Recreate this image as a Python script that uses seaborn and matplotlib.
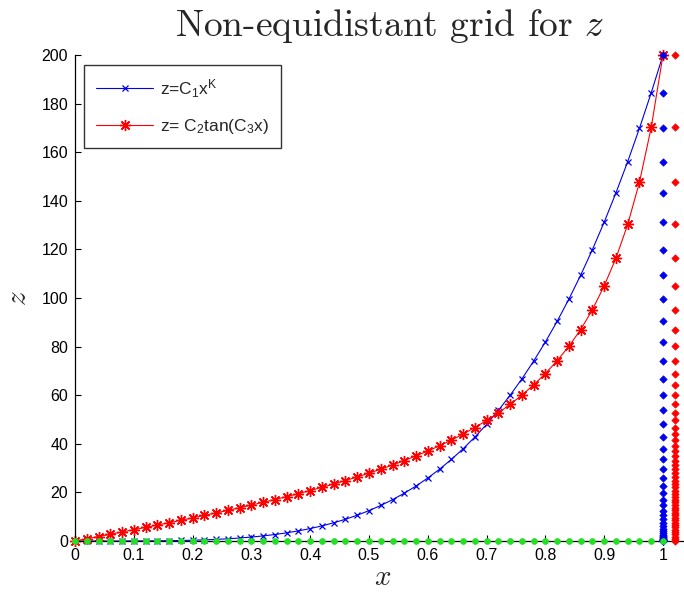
import numpy as np
import pandas as pd
import seaborn as sns
import matplotlib
matplotlib.use("Agg")
import matplotlib.pyplot as plt

sns.set_style("ticks")
plt.rcParams["font.family"] = ["Liberation Sans", "DejaVu Sans"]
plt.rcParams["mathtext.default"] = "regular"

# === Data ===
x_grid = [0.00, 0.02, 0.04, 0.06, 0.08, 0.10, 0.12, 0.14, 0.16, 0.18,
          0.20, 0.22, 0.24, 0.26, 0.28, 0.30, 0.32, 0.34, 0.36, 0.38,
          0.40, 0.42, 0.44, 0.46, 0.48, 0.50, 0.52, 0.54, 0.56, 0.58,
          0.60, 0.62, 0.64, 0.66, 0.68, 0.70, 0.72, 0.74, 0.76, 0.78,
          0.80, 0.82, 0.84, 0.86, 0.88, 0.90, 0.92, 0.94, 0.96, 0.98, 1.00]

# z = C1 x^K
z_power = [0, 0, 0, 0, 0.01, 0.02, 0.04, 0.08, 0.13, 0.21,
           0.32, 0.47, 0.66, 0.91, 1.23, 1.62, 2.10, 2.67, 3.36, 4.17,
           5.12, 6.22, 7.50, 8.95, 10.62, 12.5, 14.62, 17.01, 19.67, 22.63,
           25.92, 29.55, 33.55, 37.95, 42.76, 48.02, 53.75, 59.97, 66.72, 74.03,
           81.92, 90.42, 99.57, 109.40, 119.94, 131.22, 143.28, 156.15, 169.87, 184.47, 200]

# z = C2 tan(C3 x)
z_tan = [0, 0.93, 1.85, 2.78, 3.72, 4.66, 5.61, 6.57, 7.54, 8.52,
         9.52, 10.53, 11.56, 12.61, 13.69, 14.79, 15.91, 17.07, 18.27, 19.49,
         20.77, 22.09, 23.46, 24.89, 26.37, 27.93, 29.56, 31.28, 33.09, 35.01,
         37.04, 39.20, 41.52, 44.01, 46.69, 49.60, 52.76, 56.22, 60.02, 64.24,
         68.93, 74.20, 80.16, 86.99, 95.2, 105.0, 116.4, 130.3, 147.7, 170.2, 200]

# where the grid columns are drawn on the x axis
x_col_power = 1.0
x_col_tan = 1.02

labels = [r"z=C$_1$x$^K$", r"z= C$_2$tan(C$_3$x)"]
x_ticks = [0, 0.1, 0.2, 0.3, 0.4, 0.5, 0.6, 0.7, 0.8, 0.9, 1]
y_ticks = [0, 20, 40, 60, 80, 100, 120, 140, 160, 180, 200]

df = pd.DataFrame({"x": x_grid, "power": z_power, "tan": z_tan})

blue = "#0000ee"
red = "#ff0000"
green = "#22e022"

fig = plt.figure(figsize=(6.84, 5.94), dpi=100)
ax = fig.add_axes([75 / 684, 53 / 594, 609 / 684, 486 / 594])

sns.lineplot(data=df, x="x", y="power", ax=ax, color=blue, lw=0.8,
             marker="x", markersize=5, mew=0.9, mec=blue, label=labels[0],
             estimator=None, sort=False, clip_on=False)
sns.lineplot(data=df, x="x", y="tan", ax=ax, color=red, lw=0.8,
             marker=(8, 2, 0), markersize=8, mew=1.0, mec=red, label=labels[1],
             estimator=None, sort=False, clip_on=False)

sns.scatterplot(x=[x_col_power] * len(df), y=df["power"], ax=ax, marker="D",
                s=14, color=blue, edgecolor=blue, linewidth=0.5,
                clip_on=False, legend=False, zorder=3)
sns.scatterplot(x=[x_col_tan] * len(df), y=df["tan"], ax=ax, marker="D",
                s=14, color=red, edgecolor=red, linewidth=0.5,
                clip_on=False, legend=False, zorder=3)
sns.scatterplot(x=df["x"], y=[0] * len(df), ax=ax, marker="o",
                s=18, color=green, edgecolor=green, linewidth=0.5,
                clip_on=False, legend=False, zorder=4)

ax.set_xlim(0, 1 + 21 / 588)
ax.set_ylim(0, 200)
ax.set_xticks(x_ticks)
ax.set_xticklabels([f"{t:g}" for t in x_ticks])
ax.set_yticks(y_ticks)
ax.tick_params(direction="in", length=4, width=0.8, labelsize=11.5,
               colors="black", pad=5)
sns.despine(ax=ax, top=True, right=True)
for side in ["left", "bottom"]:
    ax.spines[side].set_linewidth(0.9)
    ax.spines[side].set_color("black")

ax.set_xlabel("")
ax.set_ylabel("")
fig.text(383 / 684, 1 - 577 / 594, r"$\mathit{x}$", fontsize=21,
         math_fontfamily="cm", ha="center", va="center")
fig.text(18 / 684, 1 - 298 / 594, r"$\mathit{z}$", fontsize=21,
         math_fontfamily="cm", ha="center", va="center", rotation=90)

fig.text(389 / 684, 1 - 26 / 594, r"Non-equidistant grid for $\mathit{z}$",
         fontsize=27, family="cmr10", math_fontfamily="cm",
         ha="center", va="center")

leg = ax.legend(loc="upper left", bbox_to_anchor=(9 / 609, 1 - 10 / 486),
                borderaxespad=0, frameon=True, fancybox=False, numpoints=1,
                fontsize=12.5, handlelength=3.3, handletextpad=0.35,
                borderpad=0.7, labelspacing=1.0)
leg.get_frame().set_edgecolor("black")
leg.get_frame().set_linewidth(1.0)

plt.savefig("out.png", dpi=100)
plt.close()
